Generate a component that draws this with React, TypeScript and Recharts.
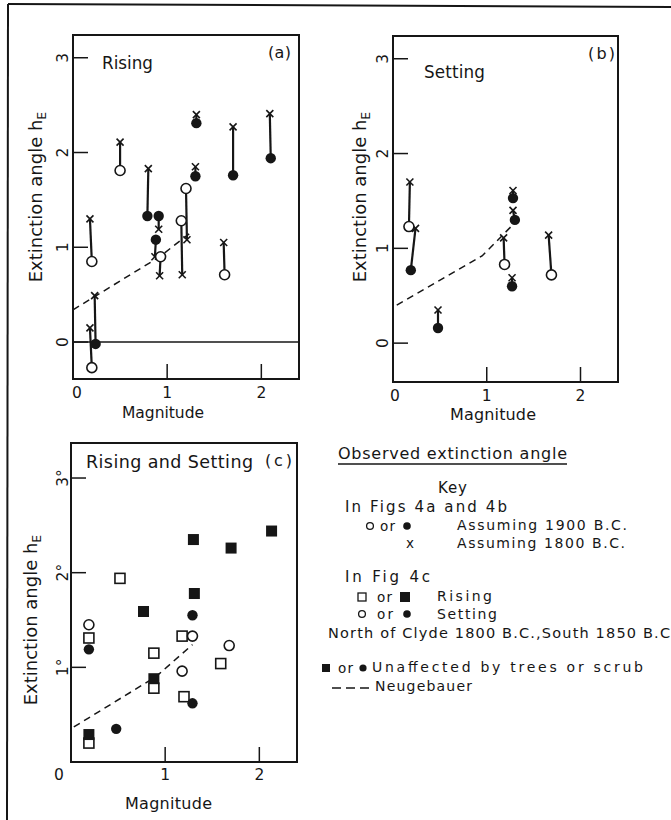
import React from 'react';
import { ScatterChart, Scatter, XAxis, YAxis, ReferenceArea, ReferenceLine } from 'recharts';

const INK = '#161616';
const FONT = '"DejaVu Sans", Verdana, sans-serif';

// ---------- DATA ----------
const magTicks = [0, 1, 2];
const angleTicksAB = [0, 1, 2, 3];
const angleTicksC = [1, 2, 3];

// Fig 4a (Rising): x-marker = assuming 1800 B.C., circle = assuming 1900 B.C.
const risingPairs = [
  { m18: 0.18, h18: 1.30, m19: 0.20, h19: 0.85, solid: 0 },
  { m18: 0.18, h18: 0.15, m19: 0.20, h19: -0.27, solid: 0 },
  { m18: 0.23, h18: 0.49, m19: 0.24, h19: -0.02, solid: 1 },
  { m18: 0.50, h18: 2.11, m19: 0.50, h19: 1.81, solid: 0 },
  { m18: 0.80, h18: 1.83, m19: 0.79, h19: 1.33, solid: 1 },
  { m18: 0.91, h18: 1.19, m19: 0.91, h19: 1.33, solid: 1 },
  { m18: 0.87, h18: 0.90, m19: 0.88, h19: 1.08, solid: 1 },
  { m18: 0.92, h18: 0.70, m19: 0.93, h19: 0.90, solid: 0 },
  { m18: 1.16, h18: 0.71, m19: 1.15, h19: 1.28, solid: 0 },
  { m18: 1.21, h18: 1.08, m19: 1.20, h19: 1.62, solid: 0 },
  { m18: 1.31, h18: 2.40, m19: 1.31, h19: 2.31, solid: 1 },
  { m18: 1.30, h18: 1.85, m19: 1.30, h19: 1.75, solid: 1 },
  { m18: 1.60, h18: 1.05, m19: 1.61, h19: 0.71, solid: 0 },
  { m18: 1.70, h18: 2.27, m19: 1.70, h19: 1.76, solid: 1 },
  { m18: 2.09, h18: 2.41, m19: 2.10, h19: 1.94, solid: 1 },
];

// Fig 4b (Setting)
const settingPairs = [
  { m18: 0.18, h18: 1.70, m19: 0.17, h19: 1.23, solid: 0 },
  { m18: 0.24, h18: 1.21, m19: 0.19, h19: 0.77, solid: 1 },
  { m18: 0.48, h18: 0.35, m19: 0.48, h19: 0.16, solid: 1 },
  { m18: 1.18, h18: 1.11, m19: 1.19, h19: 0.83, solid: 0 },
  { m18: 1.28, h18: 1.61, m19: 1.28, h19: 1.53, solid: 1 },
  { m18: 1.28, h18: 1.40, m19: 1.30, h19: 1.30, solid: 1 },
  { m18: 1.27, h18: 0.69, m19: 1.27, h19: 0.60, solid: 1 },
  { m18: 1.66, h18: 1.14, m19: 1.69, h19: 0.72, solid: 0 },
];

// Fig 4c (Rising and Setting)
const risingOpenC = [
  { m: 0.19, h: 0.20 }, { m: 0.19, h: 1.31 }, { m: 0.52, h: 1.94 }, { m: 0.88, h: 1.15 },
  { m: 0.88, h: 0.78 }, { m: 1.18, h: 1.33 }, { m: 1.20, h: 0.69 }, { m: 1.59, h: 1.04 },
];
const risingSolidC = [
  { m: 0.19, h: 0.29 }, { m: 0.77, h: 1.59 }, { m: 0.88, h: 0.88 }, { m: 1.30, h: 2.35 },
  { m: 1.31, h: 1.78 }, { m: 1.70, h: 2.26 }, { m: 2.13, h: 2.44 },
];
const settingOpenC = [
  { m: 0.19, h: 1.45 }, { m: 1.18, h: 0.96 }, { m: 1.29, h: 1.33 }, { m: 1.68, h: 1.23 },
];
const settingSolidC = [
  { m: 0.19, h: 1.19 }, { m: 0.48, h: 0.35 }, { m: 1.29, h: 1.55 }, { m: 1.29, h: 0.62 },
];

// Neugebauer curves
const neugA = [{ m: 0.0, h: 0.34 }, { m: 0.92, h: 0.90 }, { m: 1.27, h: 1.17 }];
const neugB = [{ m: 0.04, h: 0.40 }, { m: 0.95, h: 0.92 }, { m: 1.29, h: 1.26 }];
const neugC = [{ m: 0.03, h: 0.37 }, { m: 0.90, h: 0.90 }, { m: 1.29, h: 1.24 }];

const magDomain = [0, 2.4];
const angleDomainA = [-0.39, 3.24];
const angleDomainB = [-0.41, 3.24];
const angleDomainC = [0, 3.37];

// ---------- SHAPES ----------
const NoShape = () => <g />;
const XMark = (p: any) => {
  const { cx, cy } = p;
  const s = 3.5;
  return (
    <g>
      <line x1={cx - s} y1={cy - s} x2={cx + s} y2={cy + s} stroke={INK} strokeWidth={1.6} />
      <line x1={cx - s} y1={cy + s} x2={cx + s} y2={cy - s} stroke={INK} strokeWidth={1.6} />
    </g>
  );
};
const OpenCircle = (p: any) => <circle cx={p.cx} cy={p.cy} r={5} fill="#fff" stroke={INK} strokeWidth={1.6} />;
const SolidCircle = (p: any) => <circle cx={p.cx} cy={p.cy} r={5.2} fill={INK} />;
const OpenSquare = (p: any) => <rect x={p.cx - 5} y={p.cy - 5} width={10} height={10} fill="#fff" stroke={INK} strokeWidth={1.6} />;
const SolidSquare = (p: any) => <rect x={p.cx - 5.5} y={p.cy - 5.5} width={11} height={11} fill={INK} />;

// ---------- TICKS ----------
const YTick = (props: any) => {
  const { x, y, payload, margin, deg } = props;
  const px = x + margin;
  return (
    <g>
      <line x1={px} y1={y} x2={px + 15} y2={y} stroke={INK} strokeWidth={1.5} />
      <text
        x={x}
        y={y}
        transform={`rotate(-90 ${x} ${y})`}
        textAnchor="middle"
        dominantBaseline="central"
        fontFamily={FONT}
        fontSize={15.5}
        fill={INK}
      >
        {payload.value}
        {deg ? '°' : ''}
      </text>
    </g>
  );
};
const XTick = (props: any) => {
  const { x, y, payload, margin, zeroDx } = props;
  const py = y - margin;
  return (
    <g>
      {payload.value !== 0 && <line x1={x} y1={py} x2={x} y2={py - 15} stroke={INK} strokeWidth={1.5} />}
      <text
        x={x + (payload.value === 0 ? zeroDx : 0)}
        y={y}
        textAnchor="middle"
        dominantBaseline="central"
        fontFamily={FONT}
        fontSize={15.5}
        fill={INK}
      >
        {payload.value}
      </text>
    </g>
  );
};

const pairLine = (p: any) => [
  { m: p.m18, h: p.h18 },
  { m: p.m19, h: p.h19 },
];

function PairPanel({ pairs, neug, yDomain, margin, zeroDx, zeroLine }: any) {
  return (
    <ScatterChart width={330} height={420} margin={margin}>
      <XAxis
        type="number"
        dataKey="m"
        domain={magDomain}
        ticks={magTicks}
        allowDataOverflow
        axisLine={false}
        tickLine={false}
        tickSize={0}
        tickMargin={14}
        height={30}
        interval={0}
        tick={(p: any) => <XTick {...p} margin={14} zeroDx={zeroDx} />}
      />
      <YAxis
        type="number"
        dataKey="h"
        domain={yDomain}
        ticks={angleTicksAB}
        allowDataOverflow
        axisLine={false}
        tickLine={false}
        tickSize={0}
        tickMargin={10}
        width={30}
        interval={0}
        tick={(p: any) => <YTick {...p} margin={10} />}
      />
      <ReferenceArea
        x1={magDomain[0]}
        x2={magDomain[1]}
        y1={yDomain[0]}
        y2={yDomain[1]}
        fill="none"
        fillOpacity={0}
        stroke={INK}
        strokeWidth={2}
        ifOverflow="visible"
      />
      {zeroLine && <ReferenceLine y={0} stroke={INK} strokeWidth={1.6} />}
      <Scatter
        data={neug}
        line={{ stroke: INK, strokeWidth: 1.5, strokeDasharray: '7 5' }}
        shape={NoShape}
        isAnimationActive={false}
      />
      {pairs.map((p: any, i: number) => (
        <Scatter
          key={'l' + i}
          data={pairLine(p)}
          line={{ stroke: INK, strokeWidth: 2.2 }}
          shape={NoShape}
          isAnimationActive={false}
        />
      ))}
      <Scatter data={pairs.map((p: any) => ({ m: p.m18, h: p.h18 }))} shape={XMark} isAnimationActive={false} />
      <Scatter
        data={pairs.filter((p: any) => !p.solid).map((p: any) => ({ m: p.m19, h: p.h19 }))}
        shape={OpenCircle}
        isAnimationActive={false}
      />
      <Scatter
        data={pairs.filter((p: any) => p.solid).map((p: any) => ({ m: p.m19, h: p.h19 }))}
        shape={SolidCircle}
        isAnimationActive={false}
      />
    </ScatterChart>
  );
}

function PanelC() {
  return (
    <ScatterChart width={330} height={420} margin={{ top: 43, left: 41, right: 33, bottom: 28 }}>
      <XAxis
        type="number"
        dataKey="m"
        domain={magDomain}
        ticks={magTicks}
        allowDataOverflow
        axisLine={false}
        tickLine={false}
        tickSize={0}
        tickMargin={13}
        height={30}
        interval={0}
        tick={(p: any) => <XTick {...p} margin={13} zeroDx={-12} />}
      />
      <YAxis
        type="number"
        dataKey="h"
        domain={angleDomainC}
        ticks={angleTicksC}
        allowDataOverflow
        axisLine={false}
        tickLine={false}
        tickSize={0}
        tickMargin={8}
        width={30}
        interval={0}
        tick={(p: any) => <YTick {...p} margin={8} deg />}
      />
      <ReferenceArea
        x1={magDomain[0]}
        x2={magDomain[1]}
        y1={angleDomainC[0]}
        y2={angleDomainC[1]}
        fill="none"
        fillOpacity={0}
        stroke={INK}
        strokeWidth={2}
        ifOverflow="visible"
      />
      <Scatter
        data={neugC}
        line={{ stroke: INK, strokeWidth: 1.5, strokeDasharray: '7 5' }}
        shape={NoShape}
        isAnimationActive={false}
      />
      <Scatter data={risingOpenC} shape={OpenSquare} isAnimationActive={false} />
      <Scatter data={risingSolidC} shape={SolidSquare} isAnimationActive={false} />
      <Scatter data={settingOpenC} shape={OpenCircle} isAnimationActive={false} />
      <Scatter data={settingSolidC} shape={SolidCircle} isAnimationActive={false} />
    </ScatterChart>
  );
}

const T = (props: any) => (
  <text fontFamily={FONT} fill={INK} dominantBaseline="central" lengthAdjust="spacing" {...props} />
);

const YTitle = ({ x, y }: any) => (
  <text
    x={x}
    y={y}
    transform={`rotate(-90 ${x} ${y})`}
    textAnchor="middle"
    fontFamily={FONT}
    fontSize={18}
    fill={INK}
  >
    Extinction angle h
    <tspan fontSize={12.5} dy={4}>
      E
    </tspan>
  </text>
);

function Overlay() {
  return (
    <svg
      width={671}
      height={820}
      style={{ position: 'absolute', left: 0, top: 0, pointerEvents: 'none' }}
    >
      {/* frame */}
      <line x1={8} y1={4} x2={671} y2={7} stroke={INK} strokeWidth={2} />
      <line x1={8} y1={4} x2={7} y2={820} stroke={INK} strokeWidth={2} />

      {/* panel a */}
      <T x={102} y={63} fontSize={16.8} textLength={51}>Rising</T>
      <T x={268} y={52} fontSize={16} textLength={23}>(a)</T>
      <YTitle x={41.5} y={197} />
      <T x={122} y={413} fontSize={15.5} textLength={82}>Magnitude</T>

      {/* panel b */}
      <T x={424} y={72} fontSize={16.8} textLength={61}>Setting</T>
      <T x={588} y={53} fontSize={16} textLength={27}>(b)</T>
      <YTitle x={366} y={197} />
      <T x={450} y={414} fontSize={16} textLength={86}>Magnitude</T>

      {/* panel c */}
      <T x={86} y={462} fontSize={17.5} textLength={167}>Rising and Setting</T>
      <T x={265} y={460} fontSize={16} textLength={27}>(c)</T>
      <YTitle x={37} y={620} />
      <T x={125} y={803} fontSize={16} textLength={87}>Magnitude</T>

      {/* key */}
      <T x={338} y={453} fontSize={16} textLength={229}>Observed extinction angle</T>
      <line x1={338} y1={464} x2={567} y2={464} stroke={INK} strokeWidth={1.4} />
      <T x={438} y={488} fontSize={15} textLength={29}>Key</T>
      <T x={345} y={507} fontSize={15} textLength={162}>In Figs 4a and 4b</T>

      <circle cx={370} cy={526} r={3.4} fill="#fff" stroke={INK} strokeWidth={1.3} />
      <T x={380} y={526} fontSize={13.5} textLength={15}>or</T>
      <circle cx={407} cy={526} r={3.8} fill={INK} />
      <T x={457} y={525} fontSize={14} textLength={170}>Assuming 1900 B.C.</T>

      <T x={410} y={543} fontSize={13.5} textAnchor="middle">x</T>
      <T x={457} y={543} fontSize={14} textLength={168}>Assuming 1800 B.C.</T>

      <T x={345} y={577} fontSize={15} textLength={85}>In Fig 4c</T>
      <rect x={358} y={593} width={8} height={8} fill="#fff" stroke={INK} strokeWidth={1.3} />
      <T x={377} y={597} fontSize={13.5} textLength={15}>or</T>
      <rect x={400} y={592} width={10} height={10} fill={INK} />
      <T x={437} y={596} fontSize={14} textLength={55}>Rising</T>

      <circle cx={362} cy={614} r={3.4} fill="#fff" stroke={INK} strokeWidth={1.3} />
      <T x={377} y={614} fontSize={13.5} textLength={16}>or</T>
      <circle cx={407} cy={614} r={3.8} fill={INK} />
      <T x={437} y={614} fontSize={14} textLength={60}>Setting</T>

      <T x={328} y={633} fontSize={14.5} textLength={342}>North of Clyde 1800 B.C.,South 1850 B.C</T>

      <rect x={322} y={664} width={8} height={8} fill={INK} />
      <T x={338} y={668} fontSize={13.5} textLength={15}>or</T>
      <circle cx={363} cy={668} r={3.6} fill={INK} />
      <T x={372} y={667} fontSize={14} textLength={271}>Unaffected by trees or scrub</T>

      <line x1={332} y1={688} x2={370} y2={688} stroke={INK} strokeWidth={1.5} strokeDasharray="9 5" />
      <T x={375} y={686} fontSize={14} textLength={97}>Neugebauer</T>
    </svg>
  );
}

export default function App() {
  return (
    <div style={{ position: 'absolute', left: 0, top: 0, width: 671, height: 820, background: '#fff' }}>
      <div style={{ position: 'absolute', left: 0, top: 0 }}>
        <PairPanel
          pairs={risingPairs}
          neug={neugA}
          yDomain={angleDomainA}
          margin={{ top: 35, left: 43, right: 31, bottom: 11 }}
          zeroDx={4}
          zeroLine
        />
      </div>
      <div style={{ position: 'absolute', left: 320, top: 0 }}>
        <PairPanel
          pairs={settingPairs}
          neug={neugB}
          yDomain={angleDomainB}
          margin={{ top: 36, left: 43, right: 32, bottom: 8 }}
          zeroDx={2}
          zeroLine={false}
        />
      </div>
      <div style={{ position: 'absolute', left: 0, top: 400 }}>
        <PanelC />
      </div>
      <Overlay />
    </div>
  );
}
